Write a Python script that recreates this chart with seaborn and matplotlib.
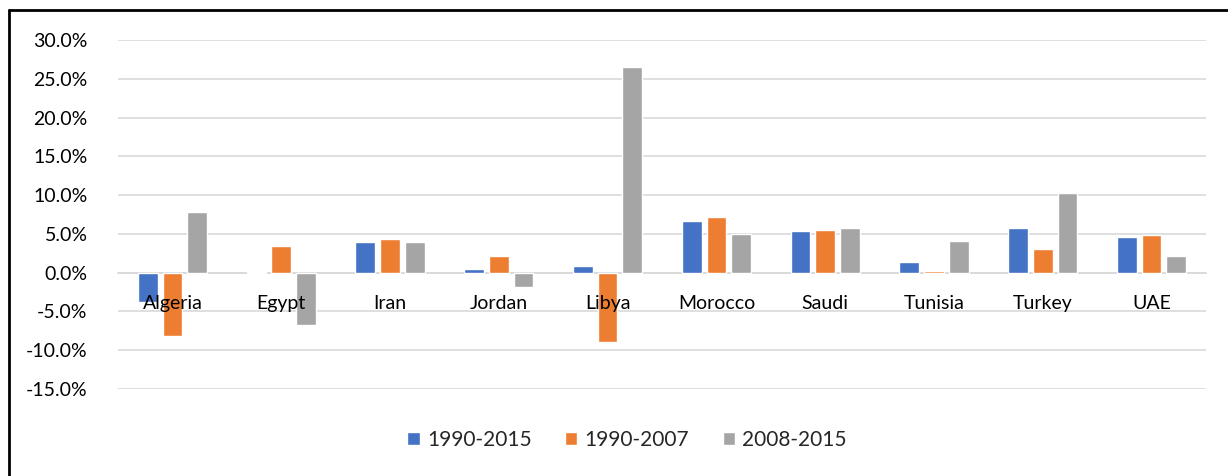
import matplotlib
matplotlib.use("Agg")
import matplotlib.pyplot as plt
import matplotlib.ticker as mticker
from matplotlib.lines import Line2D
import seaborn as sns
import pandas as pd

countries = ["Algeria", "Egypt", "Iran", "Jordan", "Libya", "Morocco", "Saudi", "Tunisia", "Turkey", "UAE"]
series_names = ["1990-2015", "1990-2007", "2008-2015"]
v_1990_2015 = [-3.8, 0.1, 3.9, 0.45, 0.8, 6.7, 5.4, 1.4, 5.7, 4.6]
v_1990_2007 = [-8.2, 3.4, 4.3, 2.2, -9.0, 7.2, 5.5, 0.2, 3.1, 4.8]
v_2008_2015 = [7.8, -6.7, 4.0, -1.9, 26.5, 5.0, 5.7, 4.1, 10.3, 2.2]
colors = ["#4472C4", "#ED7D31", "#A5A5A5"]

rows = []
for name, vals in zip(series_names, [v_1990_2015, v_1990_2007, v_2008_2015]):
    for c, v in zip(countries, vals):
        rows.append({"country": c, "period": name, "value": v})
df = pd.DataFrame(rows)

sns.set_theme(style="white")
plt.rcParams["font.family"] = ["Lato", "DejaVu Sans"]

W, H = 1228, 476
fig = plt.figure(figsize=(W / 100, H / 100), dpi=100)
ax = fig.add_axes([118 / W, 1 - 389 / H, (1206 - 118) / W, (389 - 40) / H])

sns.barplot(data=df, x="country", y="value", hue="period", palette=colors,
            width=0.68, gap=0.2, ax=ax, legend=True, saturation=1)

ax.set_ylim(-15, 30)
ax.set_yticks(range(-15, 31, 5))
ax.yaxis.set_major_formatter(mticker.FuncFormatter(lambda v, p: f"{v:.1f}%"))
ax.grid(axis="y", color="#d9d9d9", linewidth=1.2)
ax.set_axisbelow(True)
ax.xaxis.set_zorder(5)
for s in ["top", "right", "left"]:
    ax.spines[s].set_visible(False)
ax.spines["bottom"].set_position(("data", 0))
ax.spines["bottom"].set_color("#d9d9d9")
ax.spines["bottom"].set_linewidth(1.2)
ax.spines["bottom"].set_zorder(0.6)
ax.tick_params(axis="both", length=0, labelsize=14, colors="#000000")
ax.tick_params(axis="x", pad=16)
ax.tick_params(axis="y", pad=22)
ax.set_xlabel("")
ax.set_ylabel("")
ax.set_xlim(-0.5, len(countries) - 0.5)

handles, labels = ax.get_legend_handles_labels()
ax.get_legend().remove()
fig.legend(handles, labels, loc="center", bbox_to_anchor=(627 / W, 1 - 440 / H),
           ncol=3, frameon=False, fontsize=15, handlelength=0.6, handleheight=0.6,
           handletextpad=0.35, columnspacing=1.6)

fig.add_artist(Line2D([9 / W, 9 / W], [0, 1 - 10 / H], color="black", lw=2, transform=fig.transFigure))
fig.add_artist(Line2D([9 / W, 1], [1 - 10 / H, 1 - 10 / H], color="black", lw=2, transform=fig.transFigure))

fig.savefig("out.png", dpi=100, facecolor="white")
